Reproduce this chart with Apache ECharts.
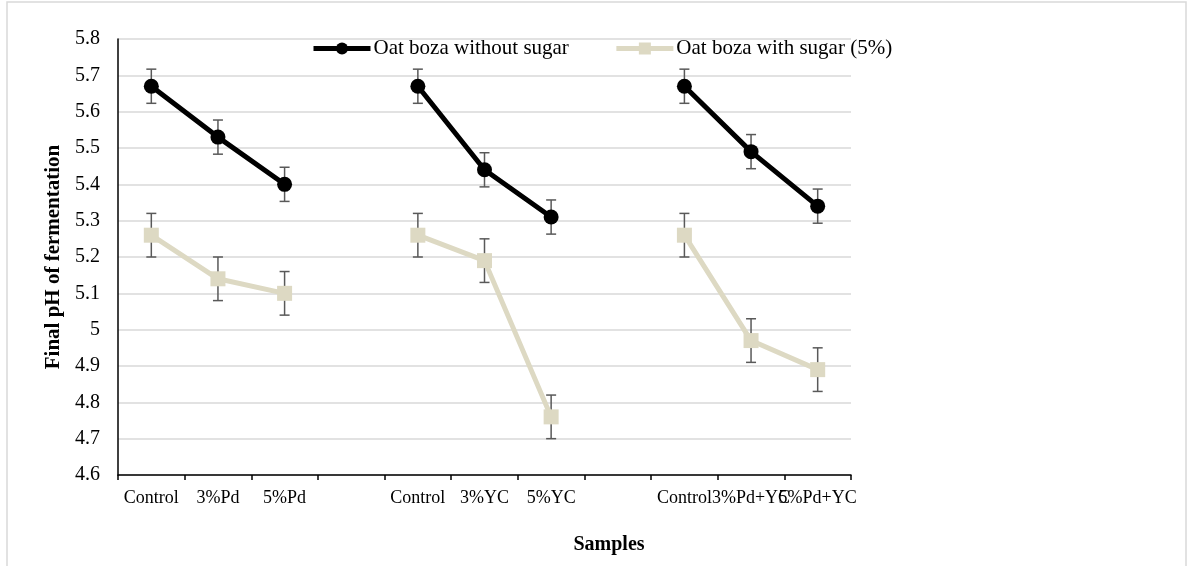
<!DOCTYPE html>
<html>
<head>
<meta charset="utf-8">
<script src="https://cdn.jsdelivr.net/npm/echarts@6/dist/echarts.min.js"></script>
<style>html,body{margin:0;padding:0;background:#fff}#c{width:1191px;height:566px}</style>
</head>
<body>
<div id="c"></div>
<script>
const categories = ['Control','3%Pd','5%Pd','','Control','3%YC','5%YC','','Control','3%Pd+YC','5%Pd+YC'];
const withoutSugar = [5.67, 5.53, 5.40, null, 5.67, 5.44, 5.31, null, 5.67, 5.49, 5.34];
const withoutSugarErr = [0.047, 0.047, 0.047, null, 0.047, 0.047, 0.047, null, 0.047, 0.047, 0.047];
const withSugar = [5.26, 5.14, 5.10, null, 5.26, 5.19, 4.76, null, 5.26, 4.97, 4.89];
const withSugarErr = [0.06, 0.06, 0.06, null, 0.06, 0.06, 0.06, null, 0.06, 0.06, 0.06];
const seriesNames = ['Oat boza without sugar', 'Oat boza with sugar (5%)'];
const yTicks = { min: 4.6, max: 5.8, interval: 0.1 };

const FONT = '"Liberation Serif", "Times New Roman", serif';

function errData(vals, errs) {
  const out = [];
  vals.forEach((v, i) => { if (v != null) out.push([i, v - errs[i], v + errs[i]]); });
  return out;
}
function errRender(params, api) {
  const x = api.coord([api.value(0), api.value(1)])[0];
  const lo = api.coord([api.value(0), api.value(1)])[1];
  const hi = api.coord([api.value(0), api.value(2)])[1];
  const w = 5;
  const st = { stroke: '#595959', lineWidth: 1.5 };
  return { type: 'group', children: [
    { type: 'line', shape: { x1: x, y1: lo, x2: x, y2: hi }, style: st },
    { type: 'line', shape: { x1: x - w, y1: lo, x2: x + w, y2: lo }, style: st },
    { type: 'line', shape: { x1: x - w, y1: hi, x2: x + w, y2: hi }, style: st }
  ]};
}

const chart = echarts.init(document.getElementById('c'));
chart.setOption({
  animation: false,
  backgroundColor: '#fff',
  textStyle: { fontFamily: FONT },
  graphic: [{ type: 'rect', shape: { x: 7, y: 2, width: 1179, height: 600 }, style: { fill: 'none', stroke: '#d9d9d9', lineWidth: 1.5 }, silent: true, z: -10 }],
  title: { text: 'Samples', left: 604, top: 530, textAlign: 'center',
    textStyle: { fontFamily: FONT, fontSize: 20, fontWeight: 'bold', color: '#000' } },
  legend: {
    left: 311, top: 38, padding: 0, itemWidth: 57, itemHeight: 15, itemGap: 45,
    lineStyle: { width: 5 },
    textStyle: { fontFamily: FONT, fontSize: 21, color: '#000', padding: [0, 0, 0, -2] },
    data: seriesNames
  },
  grid: { left: 118, right: 340, top: 39, bottom: 91, containLabel: false },
  xAxis: {
    type: 'category', data: categories, boundaryGap: true,
    axisLine: { lineStyle: { color: '#000', width: 1.5 } },
    axisTick: { show: true, alignWithLabel: false, interval: 0, length: 5, lineStyle: { color: '#000', width: 1.5 } },
    axisLabel: { interval: 0, fontFamily: FONT, fontSize: 18, color: '#000', margin: 14, hideOverlap: false },
    splitLine: { show: false }
  },
  yAxis: {
    type: 'value', min: yTicks.min, max: yTicks.max, interval: yTicks.interval,
    name: 'Final pH of fermentation', nameLocation: 'middle', nameGap: 51,
    nameTextStyle: { fontFamily: FONT, fontSize: 21, fontWeight: 'bold', color: '#000' },
    axisLine: { show: true, lineStyle: { color: '#000', width: 1.5 } },
    axisTick: { show: false },
    axisLabel: { fontFamily: FONT, fontSize: 20, color: '#000', margin: 18 },
    splitLine: { lineStyle: { color: '#d9d9d9', width: 1.5 } }
  },
  series: [
    { type: 'custom', renderItem: errRender, data: errData(withoutSugar, withoutSugarErr), z: 1, silent: true, encode: { x: 0, y: [1, 2] } },
    { type: 'custom', renderItem: errRender, data: errData(withSugar, withSugarErr), z: 1, silent: true, encode: { x: 0, y: [1, 2] } },
    { name: seriesNames[0], type: 'line', data: withoutSugar, z: 3, connectNulls: false,
      symbol: 'circle', symbolSize: 15, itemStyle: { color: '#000' }, lineStyle: { color: '#000', width: 5 } },
    { name: seriesNames[1], type: 'line', data: withSugar, z: 2, connectNulls: false,
      symbol: 'rect', symbolSize: 15, itemStyle: { color: '#ddd9c3' }, lineStyle: { color: '#ddd9c3', width: 5 } }
  ]
});
</script>
</body>
</html>
